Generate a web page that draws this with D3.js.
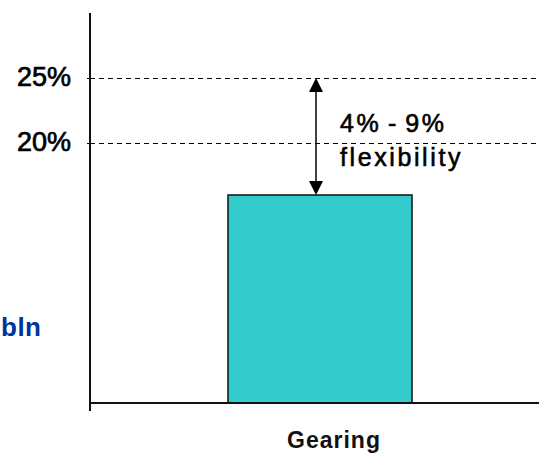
<!DOCTYPE html>
<html>
<head>
<meta charset="utf-8">
<script src="https://cdn.jsdelivr.net/npm/d3@7"></script>
<style>
  html, body { margin: 0; padding: 0; background: #fff; }
  svg { display: block; }
  text { font-family: "Liberation Sans", Arial, sans-serif; }
</style>
</head>
<body>
<svg id="chart" width="539" height="455"></svg>
<script>
// Chart data
const categories = ["Gearing"];
const values = [16];
const refLevels = [25, 20];
const tickLabels = ["25%", "20%"];
const rangeLabel = ["4% - 9%", "flexibility"];
const sideLabel = "bln";

const svg = d3.select("#chart");
const W = 539, H = 455;

const y = d3.scaleLinear().domain([0, 30]).range([403, 13]);
const x = d3.scaleBand().domain(categories).range([90, 550])
  .paddingInner(0.6).paddingOuter(0.3);

// reference levels (dashed)
svg.selectAll("line.ref").data(refLevels).join("line")
  .attr("class", "ref")
  .attr("x1", 90).attr("x2", W)
  .attr("y1", d => y(d) + 0.5).attr("y2", d => y(d) + 0.5)
  .attr("stroke", "#000").attr("stroke-width", 1)
  .attr("shape-rendering", "crispEdges")
  .attr("stroke-dasharray", "5,4");

// tick labels
svg.selectAll("text.tick").data(refLevels).join("text")
  .attr("class", "tick")
  .attr("x", 71).attr("y", d => y(d) + 8)
  .attr("text-anchor", "end")
  .attr("font-size", 27)
  .attr("fill", "#000")
  .attr("stroke", "#000").attr("stroke-width", 0.7)
  .text((d, i) => tickLabels[i]);

// small tick marks
svg.selectAll("line.tk").data(refLevels).join("line")
  .attr("class", "tk")
  .attr("x1", 87).attr("x2", 90)
  .attr("y1", d => y(d) + 0.5).attr("y2", d => y(d) + 0.5)
  .attr("stroke", "#000").attr("stroke-width", 1);

// bar
svg.selectAll("rect.bar").data(values).join("rect")
  .attr("class", "bar")
  .attr("x", (d, i) => x(categories[i]))
  .attr("y", d => y(d))
  .attr("width", x.bandwidth())
  .attr("height", d => y(0) - y(d))
  .attr("fill", "#33CCCC")
  .attr("stroke", "#111").attr("stroke-width", 1.5);

// axes lines
svg.append("line")
  .attr("x1", 90).attr("x2", 90)
  .attr("y1", y(30)).attr("y2", y(0) + 8)
  .attr("stroke", "#111").attr("stroke-width", 2);
svg.append("line")
  .attr("x1", 90).attr("x2", W)
  .attr("y1", y(0)).attr("y2", y(0))
  .attr("stroke", "#111").attr("stroke-width", 2);

// category label
svg.selectAll("text.cat").data(categories).join("text")
  .attr("class", "cat")
  .attr("x", d => x(d) + x.bandwidth() / 2 + 14)
  .attr("y", 448)
  .attr("text-anchor", "middle")
  .attr("font-size", 23).attr("font-weight", "bold")
  .attr("letter-spacing", 1)
  .attr("fill", "#111")
  .text(d => d);

// double-headed arrow between bar top and upper level
const ax = 316;
const yTop = y(refLevels[0]), yBot = y(values[0]);
const headH = 14, headW = 7;
svg.append("line")
  .attr("x1", ax).attr("x2", ax)
  .attr("y1", yTop + headH - 2).attr("y2", yBot - headH + 2)
  .attr("stroke", "#000").attr("stroke-width", 1.5);
svg.append("path")
  .attr("d", `M${ax},${yTop} L${ax - headW},${yTop + headH} L${ax + headW},${yTop + headH} Z`)
  .attr("fill", "#000");
svg.append("path")
  .attr("d", `M${ax},${yBot} L${ax - headW},${yBot - headH} L${ax + headW},${yBot - headH} Z`)
  .attr("fill", "#000");

// annotation text
svg.selectAll("text.ann").data(rangeLabel).join("text")
  .attr("class", "ann")
  .attr("x", 340)
  .attr("y", (d, i) => [132, 166][i])
  .attr("font-size", 25)
  .attr("letter-spacing", 2.6)
  .attr("word-spacing", -3)
  .attr("fill", "#000")
  .attr("stroke", "#000").attr("stroke-width", 0.6)
  .text(d => d);

// side label at the left edge
svg.append("text")
  .attr("x", 1).attr("y", 336)
  .attr("text-anchor", "start")
  .attr("font-size", 26).attr("font-weight", "bold")
  .attr("letter-spacing", 0.5)
  .attr("fill", "#0033A0")
  .text(sideLabel);
</script>
</body>
</html>
